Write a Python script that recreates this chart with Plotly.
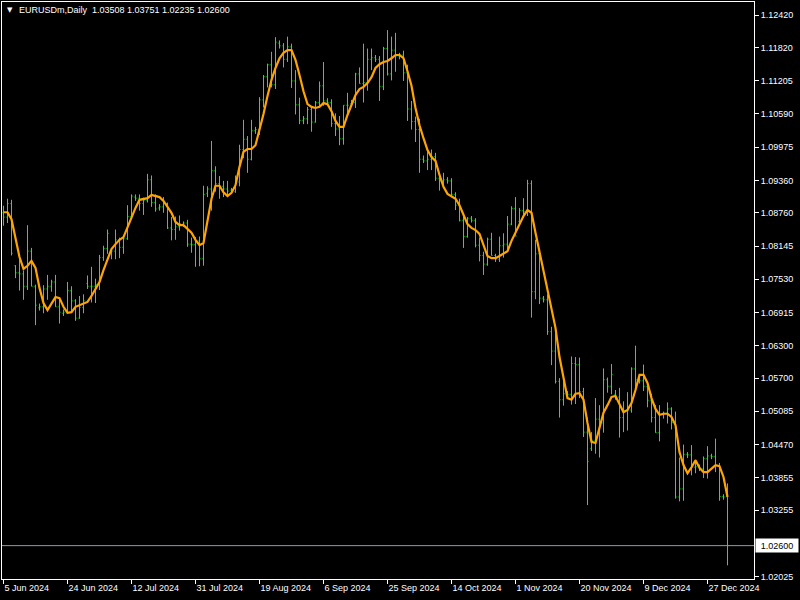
import pandas as pd
import plotly.graph_objects as go

# ---- categories: daily bars (Mon-Fri plus the short Sunday session) ----
all_days = pd.date_range("2024-06-05", "2025-01-02", freq="D")
dates = [d.strftime("%Y-%m-%d") for d in all_days if d.dayofweek != 5]

opens = [1.0876, 1.0868, 1.0893, 1.0778, 1.0765, 1.0763, 1.0740, 1.0805, 1.0740, 1.0700,
         1.0702, 1.0735, 1.0740, 1.0748, 1.0702, 1.0690, 1.0692, 1.0732, 1.0713, 1.0681,
         1.0701, 1.0745, 1.0740, 1.0740, 1.0743, 1.0793, 1.0810, 1.0800, 1.0805, 1.0826,
         1.0812, 1.0828, 1.0869, 1.0905, 1.0903, 1.0893, 1.0899, 1.0937, 1.0895, 1.0885,
         1.0887, 1.0893, 1.0848, 1.0845, 1.0850, 1.0855, 1.0857, 1.0818, 1.0817, 1.0824,
         1.0791, 1.0912, 1.0920, 1.0954, 1.0930, 1.0925, 1.0920, 1.0918, 1.0915, 1.0933,
         1.0993, 1.1012, 1.0975, 1.1028, 1.1030, 1.1085, 1.1128, 1.1150, 1.1113, 1.1190,
         1.1185, 1.1160, 1.1183, 1.1120, 1.1076, 1.1047, 1.1050, 1.1067, 1.1044, 1.1080,
         1.1111, 1.1083, 1.1080, 1.1041, 1.1031, 1.1013, 1.1075, 1.1078, 1.1080, 1.1133,
         1.1115, 1.1117, 1.1160, 1.1163, 1.1160, 1.1110, 1.1180, 1.1133, 1.1177, 1.1166,
         1.1168, 1.1135, 1.1068, 1.1045, 1.1030, 1.0975, 1.0972, 1.0975, 1.0980, 1.0940,
         1.0935, 1.0937, 1.0935, 1.0910, 1.0890, 1.0862, 1.0832, 1.0866, 1.0862, 1.0816,
         1.0797, 1.0781, 1.0827, 1.0797, 1.0790, 1.0815, 1.0818, 1.0855, 1.0884, 1.0860,
         1.0880, 1.0878, 1.0930, 1.0730, 1.0800, 1.0718, 1.0715, 1.0656, 1.0620, 1.0564,
         1.0530, 1.0541, 1.0540, 1.0597, 1.0595, 1.0545, 1.0470, 1.0440, 1.0455, 1.0494,
         1.0487, 1.0567, 1.0555, 1.0540, 1.0535, 1.0497, 1.0510, 1.0511, 1.0587, 1.0567,
         1.0565, 1.0555, 1.0529, 1.0497, 1.0469, 1.0502, 1.0505, 1.0513, 1.0488, 1.0350,
         1.0365, 1.0429, 1.0428, 1.0405, 1.0406, 1.0402, 1.0421, 1.0426, 1.0425, 1.0408,
         1.0351, 1.03508]
highs = [1.0889, 1.0902, 1.0900, 1.0779, 1.0790, 1.0769, 1.0853, 1.0811, 1.0743, 1.0708,
         1.0742, 1.0761, 1.0752, 1.0761, 1.0718, 1.0697, 1.0748, 1.0740, 1.0716, 1.0722,
         1.0725, 1.0760, 1.0776, 1.0754, 1.0798, 1.0815, 1.0845, 1.0810, 1.0845, 1.0830,
         1.0832, 1.0890, 1.0910, 1.0910, 1.0910, 1.0904, 1.0948, 1.0945, 1.0910, 1.0892,
         1.0905, 1.0895, 1.0868, 1.0869, 1.0871, 1.0860, 1.0863, 1.0830, 1.0831, 1.0832,
         1.0926, 1.0925, 1.1009, 1.0962, 1.0944, 1.0935, 1.0935, 1.0922, 1.0945, 1.1002,
         1.1048, 1.1018, 1.1048, 1.1035, 1.1090, 1.1131, 1.1152, 1.1174, 1.1201, 1.1195,
         1.1190, 1.1202, 1.1189, 1.1140, 1.1089, 1.1055, 1.1072, 1.1073, 1.1083, 1.1119,
         1.1155, 1.1088, 1.1086, 1.1060, 1.1055, 1.1075, 1.1098, 1.1085, 1.1135, 1.1145,
         1.1189, 1.1180, 1.1180, 1.1168, 1.1166, 1.1183, 1.1214, 1.1202, 1.1209, 1.1172,
         1.1176, 1.1150, 1.1083, 1.1054, 1.1050, 1.0982, 1.0989, 1.0993, 1.0987, 1.0948,
         1.0950, 1.0942, 1.0940, 1.0914, 1.0902, 1.0872, 1.0868, 1.0870, 1.0866, 1.0830,
         1.0804, 1.0830, 1.0839, 1.0800, 1.0832, 1.0838, 1.0870, 1.0888, 1.0905, 1.0885,
         1.0903, 1.0937, 1.0936, 1.0826, 1.0802, 1.0722, 1.0725, 1.0665, 1.0653, 1.0570,
         1.0572, 1.0546, 1.0610, 1.0609, 1.0608, 1.0552, 1.0497, 1.0470, 1.0533, 1.0520,
         1.0588, 1.0571, 1.0596, 1.0548, 1.0552, 1.0527, 1.0544, 1.0590, 1.0630, 1.0572,
         1.0595, 1.0564, 1.0541, 1.0520, 1.0520, 1.0508, 1.0525, 1.0516, 1.0508, 1.0423,
         1.0447, 1.0433, 1.0446, 1.0419, 1.0410, 1.0425, 1.0444, 1.0430, 1.0458, 1.0413,
         1.0355, 1.03751]
lows = [1.0852, 1.0857, 1.0797, 1.0755, 1.0732, 1.0715, 1.0733, 1.0740, 1.0668, 1.0695,
        1.0690, 1.0715, 1.0730, 1.0702, 1.0671, 1.0685, 1.0690, 1.0694, 1.0676, 1.0680,
        1.0690, 1.0735, 1.0710, 1.0709, 1.0733, 1.0787, 1.0800, 1.0790, 1.0790, 1.0792,
        1.0800, 1.0826, 1.0865, 1.0898, 1.0880, 1.0872, 1.0895, 1.0887, 1.0878, 1.0880,
        1.0876, 1.0846, 1.0825, 1.0826, 1.0843, 1.0850, 1.0813, 1.0802, 1.0776, 1.0777,
        1.0778, 1.0905, 1.0880, 1.0915, 1.0902, 1.0905, 1.0908, 1.0912, 1.0913, 1.0925,
        1.0977, 1.0950, 1.0973, 1.1022, 1.1020, 1.1071, 1.1108, 1.1108, 1.1105, 1.1180,
        1.1145, 1.1155, 1.1107, 1.1058, 1.1040, 1.1040, 1.1040, 1.1026, 1.1043, 1.1073,
        1.1074, 1.1075, 1.1035, 1.1018, 1.1001, 1.1002, 1.1060, 1.1072, 1.1070, 1.1115,
        1.1080, 1.1102, 1.1140, 1.1155, 1.1083, 1.1103, 1.1130, 1.1121, 1.1137, 1.1160,
        1.1120, 1.1046, 1.1030, 1.1007, 1.0950, 1.0968, 1.0955, 1.0955, 1.0935, 1.0917,
        1.0925, 1.0930, 1.0906, 1.0881, 1.0860, 1.0811, 1.0830, 1.0858, 1.0812, 1.0786,
        1.0761, 1.0778, 1.0797, 1.0785, 1.0785, 1.0793, 1.0808, 1.0853, 1.0834, 1.0855,
        1.0867, 1.0870, 1.0682, 1.0716, 1.0707, 1.0710, 1.0650, 1.0594, 1.0560, 1.0497,
        1.0519, 1.0535, 1.0521, 1.0522, 1.0533, 1.0461, 1.0335, 1.0435, 1.0430, 1.0423,
        1.0469, 1.0543, 1.0540, 1.0530, 1.0460, 1.0470, 1.0473, 1.0506, 1.0550, 1.0560,
        1.0546, 1.0516, 1.0488, 1.0469, 1.0453, 1.0495, 1.0486, 1.0475, 1.0347, 1.0342,
        1.0343, 1.0422, 1.0390, 1.0394, 1.0398, 1.0385, 1.0384, 1.0420, 1.0396, 1.0343,
        1.0345, 1.02235]
closes = [1.0868, 1.0893, 1.0801, 1.0765, 1.0763, 1.0740, 1.0805, 1.0740, 1.0705, 1.0702,
          1.0735, 1.0740, 1.0748, 1.0702, 1.0692, 1.0692, 1.0732, 1.0713, 1.0681, 1.0701,
          1.0713, 1.0740, 1.0740, 1.0743, 1.0793, 1.0810, 1.0838, 1.0805, 1.0826, 1.0812,
          1.0828, 1.0869, 1.0907, 1.0903, 1.0893, 1.0899, 1.0937, 1.0895, 1.0883, 1.0887,
          1.0893, 1.0848, 1.0845, 1.0850, 1.0856, 1.0857, 1.0818, 1.0817, 1.0824, 1.0791,
          1.0910, 1.0920, 1.0954, 1.0930, 1.0925, 1.0920, 1.0916, 1.0915, 1.0933, 1.0993,
          1.1012, 1.0975, 1.1028, 1.1030, 1.1085, 1.1128, 1.1150, 1.1113, 1.1192, 1.1185,
          1.1160, 1.1183, 1.1120, 1.1076, 1.1047, 1.1050, 1.1067, 1.1044, 1.1080, 1.1111,
          1.1083, 1.1080, 1.1041, 1.1031, 1.1013, 1.1075, 1.1075, 1.1080, 1.1133, 1.1115,
          1.1117, 1.1160, 1.1163, 1.1160, 1.1110, 1.1180, 1.1133, 1.1177, 1.1166, 1.1168,
          1.1135, 1.1068, 1.1045, 1.1030, 1.0975, 1.0972, 1.0975, 1.0980, 1.0940, 1.0935,
          1.0937, 1.0935, 1.0910, 1.0890, 1.0862, 1.0832, 1.0866, 1.0862, 1.0816, 1.0797,
          1.0781, 1.0827, 1.0797, 1.0790, 1.0815, 1.0818, 1.0855, 1.0884, 1.0833, 1.0880,
          1.0878, 1.0930, 1.0730, 1.0800, 1.0718, 1.0715, 1.0656, 1.0620, 1.0564, 1.0530,
          1.0541, 1.0540, 1.0597, 1.0595, 1.0545, 1.0470, 1.0416, 1.0455, 1.0494, 1.0487,
          1.0567, 1.0555, 1.0577, 1.0535, 1.0497, 1.0510, 1.0511, 1.0587, 1.0567, 1.0565,
          1.0555, 1.0529, 1.0497, 1.0469, 1.0502, 1.0505, 1.0513, 1.0488, 1.0350, 1.0365,
          1.0429, 1.0428, 1.0405, 1.0406, 1.0402, 1.0421, 1.0426, 1.0425, 1.0408, 1.0351,
          1.0350, 1.02600]

# orange smoothing line, read bar by bar
smooth = [1.0877, 1.0877, 1.0864, 1.0829, 1.0794, 1.0772, 1.0778, 1.0787, 1.0774, 1.0737,
          1.0709, 1.0696, 1.0707, 1.0720, 1.0718, 1.0702, 1.0691, 1.0692, 1.0702, 1.0705,
          1.0707, 1.0711, 1.0722, 1.0735, 1.0748, 1.0770, 1.0790, 1.0809, 1.0818, 1.0826,
          1.0831, 1.0850, 1.0866, 1.0885, 1.0900, 1.0902, 1.0903, 1.0909, 1.0907, 1.0905,
          1.0898, 1.0887, 1.0876, 1.0859, 1.0853, 1.0853, 1.0846, 1.0839, 1.0826, 1.0816,
          1.0820, 1.0859, 1.0902, 1.0926, 1.0926, 1.0914, 1.0907, 1.0913, 1.0927, 1.0961,
          1.0989, 1.0994, 1.0994, 1.1001, 1.1029, 1.1059, 1.1092, 1.1122, 1.1144, 1.1162,
          1.1172, 1.1177, 1.1177, 1.1159, 1.1131, 1.1101, 1.1077, 1.1072, 1.1070, 1.1072,
          1.1079, 1.1077, 1.1064, 1.1046, 1.1035, 1.1035, 1.1057, 1.1074, 1.1094, 1.1105,
          1.1109, 1.1116, 1.1127, 1.1144, 1.1151, 1.1155, 1.1157, 1.1162, 1.1168, 1.1168,
          1.1162, 1.1138, 1.1111, 1.1070, 1.1038, 1.1014, 1.0992, 1.0979, 1.0972, 1.0946,
          1.0924, 1.0911, 1.0907, 1.0902, 1.0890, 1.0872, 1.0855, 1.0848, 1.0844, 1.0837,
          1.0815, 1.0796, 1.0792, 1.0792, 1.0796, 1.0800, 1.0805, 1.0824, 1.0840, 1.0857,
          1.0870, 1.0881, 1.0876, 1.0839, 1.0803, 1.0765, 1.0733, 1.0698, 1.0663, 1.0609,
          1.0570, 1.0533, 1.0530, 1.0541, 1.0542, 1.0530, 1.0487, 1.0452, 1.0450, 1.0478,
          1.0506, 1.0520, 1.0535, 1.0537, 1.0522, 1.0507, 1.0511, 1.0524, 1.0548, 1.0576,
          1.0576, 1.0561, 1.0533, 1.0513, 1.0502, 1.0504, 1.0504, 1.0498, 1.0483, 1.0433,
          1.0409, 1.0394, 1.0405, 1.0418, 1.0404, 1.0396, 1.0396, 1.0402, 1.0409, 1.0407,
          1.0387, 1.0350]

tick_labels = ["5 Jun 2024", "24 Jun 2024", "12 Jul 2024", "31 Jul 2024", "19 Aug 2024",
               "6 Sep 2024", "25 Sep 2024", "14 Oct 2024", "1 Nov 2024", "20 Nov 2024",
               "9 Dec 2024", "27 Dec 2024"]
tick_bars = [0, 16, 32, 48, 64, 80, 96, 112, 128, 144, 160, 176]
price_ticks = [1.12420, 1.11820, 1.11205, 1.10590, 1.09975, 1.09360, 1.08760, 1.08145,
               1.07530, 1.06915, 1.06300, 1.05700, 1.05085, 1.04470, 1.03855, 1.03255,
               1.02025]
symbol = "EURUSDm,Daily"

bars = list(range(len(dates)))
FONT = "Liberation Sans, Arial, sans-serif"
GREEN = "#00FF00"

fig = go.Figure()
fig.add_trace(go.Ohlc(
    x=bars, open=opens, high=highs, low=lows, close=closes, text=dates,
    increasing=dict(line=dict(color=GREEN, width=1)),
    decreasing=dict(line=dict(color=GREEN, width=1)),
    tickwidth=0.25, showlegend=False, hoverinfo="skip"))
fig.add_trace(go.Scatter(
    x=bars, y=smooth, mode="lines", showlegend=False, hoverinfo="skip",
    line=dict(color="#FFA500", width=2.2, shape="linear")))

last_close = closes[-1]
fig.add_hline(y=last_close, line=dict(color="#8A9AAA", width=1))

fig.add_annotation(xref="paper", yref="y", x=1.0013, y=last_close,
                   text=f"{last_close:.5f}", showarrow=False, xanchor="left",
                   yanchor="middle", bgcolor="#FFFFFF", width=40, height=11, borderpad=1,
                   font=dict(family=FONT, size=9, color="#000000"))

header = f"{symbol}  {opens[-1]:.5f} {highs[-1]:.5f} {lows[-1]:.5f} {closes[-1]:.5f}"
fig.add_annotation(xref="paper", yref="paper", x=0.0195, y=0.986, text=header,
                   showarrow=False, xanchor="left", yanchor="middle",
                   font=dict(family=FONT, size=9, color="#FFFFFF"))
fig.add_annotation(xref="paper", yref="paper", x=0.004, y=0.986, text="▼",
                   showarrow=False, xanchor="left", yanchor="middle",
                   font=dict(family="DejaVu Sans", size=7, color="#FFFFFF"))

fig.update_layout(
    width=800, height=600,
    margin=dict(l=2, r=46, t=2, b=21, autoexpand=False),
    paper_bgcolor="#000000", plot_bgcolor="#000000",
    font=dict(family=FONT, size=9, color="#FFFFFF"),
    xaxis=dict(range=[-0.375, 187.625], showgrid=False, zeroline=False,
               showline=True, linecolor="#FFFFFF", linewidth=1, mirror=True,
               ticks="outside", ticklen=4, tickcolor="#FFFFFF",
               tickvals=tick_bars, ticktext=tick_labels,
               ticklabelposition="outside right", ticklabeloverflow="allow",
               automargin=False,
               tickfont=dict(family=FONT, size=9, color="#FFFFFF"),
               rangeslider=dict(visible=False), fixedrange=True),
    yaxis=dict(range=[1.01982, 1.12661], side="right", showgrid=False, zeroline=False,
               showline=True, linecolor="#FFFFFF", linewidth=1, mirror=True,
               ticks="outside", ticklen=4, tickcolor="#FFFFFF",
               tickvals=price_ticks, ticktext=[f"{v:.5f}" for v in price_ticks],
               ticklabeloverflow="allow", automargin=False,
               tickfont=dict(family=FONT, size=9, color="#FFFFFF"), fixedrange=True),
)

fig.write_html("out.html", config={"displayModeBar": False},
               post_script="document.body.style.margin='0';"
                           "document.body.style.background='#000000';")
